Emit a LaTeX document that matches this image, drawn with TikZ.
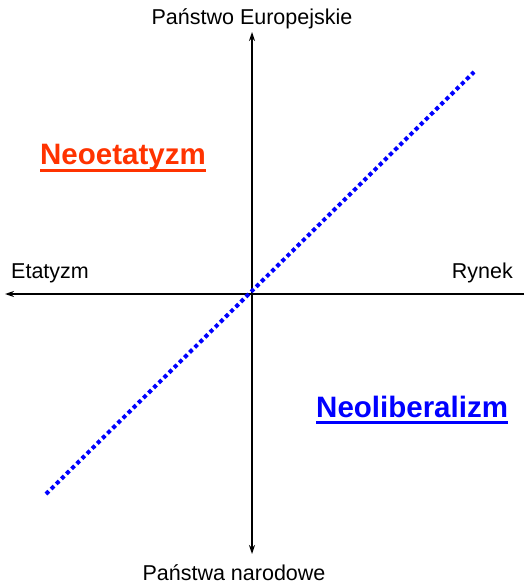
\documentclass[tikz,border=0pt]{standalone}
\usepackage{fontspec}
\setmainfont{Liberation Sans}
\usetikzlibrary{arrows.meta}

\definecolor{neored}{RGB}{255,51,0}
\definecolor{neoblue}{RGB}{0,0,255}

\begin{document}
\begin{tikzpicture}[x=1pt, y=-1pt,
    axis/.style={line width=1.4pt, -{Stealth[length=9pt, width=6pt]}},
    axisname/.style={font=\fontsize{21.5}{24}\selectfont, inner sep=0pt},
    school/.style={font=\fontsize{29.5}{33}\selectfont\bfseries,
        inner sep=0pt, anchor=base west},
    diagonal/.style={neoblue, line width=4pt,
        dash pattern=on 4pt off 3.2pt},
]
    \useasboundingbox (0, 0) rectangle (524, 585);

    %% the two axes, crossing in the middle
    \coordinate (origin) at (252, 294);
    \coordinate (left) at (5, 294);
    \coordinate (right) at (524, 294);
    \coordinate (top) at (252, 32);
    \coordinate (bottom) at (252, 554);
    \draw[axis] (right) -- (left);
    \draw[axis] (origin) -- (top);
    \draw[axis] (origin) -- (bottom);

    \node[axisname, anchor=base] (europe) at (252, 25) {Państwo Europejskie};
    \node[axisname, anchor=base] (nations) at (234, 580) {Państwa narodowe};
    \node[axisname, anchor=base west] (etatism) at (11, 278) {Etatyzm};
    \node[axisname, anchor=base east] (market) at (513, 278) {Rynek};

    %% the dotted diagonal through the origin
    \coordinate (low) at (46, 494);
    \coordinate (high) at (474, 72);
    \draw[diagonal] (low) -- (high);

    %% the two schools, underlined
    \node[school, text=neored] (neoetat) at (40, 165) {Neoetatyzm};
    \node[school, text=neoblue] (neolib) at (316, 417) {Neoliberalizm};
    \draw[neored, line width=3pt] ([yshift=-5.5pt]neoetat.base west)
        -- ([yshift=-5.5pt]neoetat.base east);
    \draw[neoblue, line width=3pt] ([yshift=-5.5pt]neolib.base west)
        -- ([yshift=-5.5pt]neolib.base east);
\end{tikzpicture}
\end{document}
